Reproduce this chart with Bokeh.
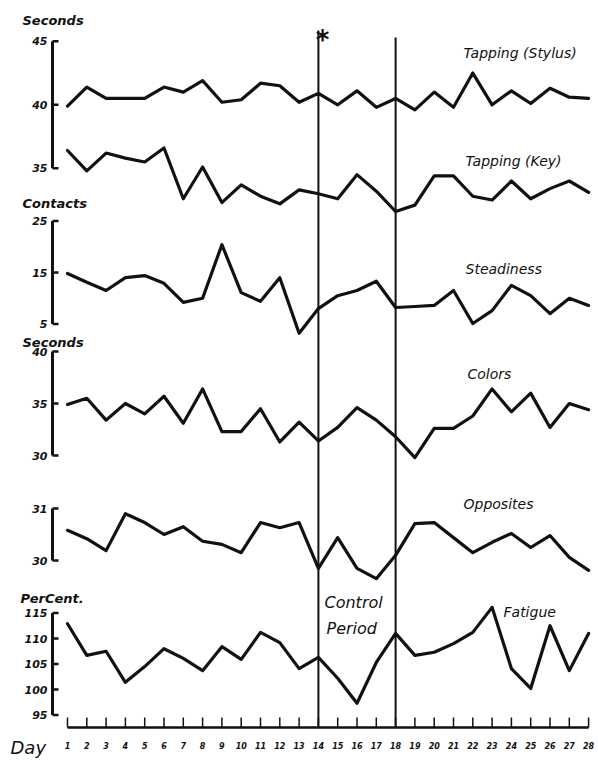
from bokeh.plotting import figure
from bokeh.models import Range1d
from bokeh.embed import file_html
from bokeh.resources import INLINE
from bokeh.core.properties import value

# ---------------- data ----------------
days = list(range(1, 29))
tapping_stylus = [39.9, 41.4, 40.5, 40.5, 40.5, 41.4, 41.0, 41.9, 40.2, 40.4, 41.7, 41.5, 40.2, 40.9,
                  40.0, 41.1, 39.8, 40.5, 39.6, 41.0, 39.8, 42.5, 40.0, 41.1, 40.1, 41.3, 40.6, 40.5]
tapping_key = [36.4, 34.8, 36.2, 35.8, 35.5, 36.6, 32.6, 35.1, 32.3, 33.7, 32.8, 32.2, 33.3, 33.0,
               32.6, 34.5, 33.2, 31.6, 32.1, 34.4, 34.4, 32.8, 32.5, 34.0, 32.6, 33.4, 34.0, 33.1]
steadiness = [14.8, 13.1, 11.5, 14.0, 14.4, 12.9, 9.2, 10.0, 20.4, 11.1, 9.4, 14.0, 3.2, 8.0,
              10.5, 11.5, 13.3, 8.2, 8.4, 8.6, 11.5, 5.1, 7.6, 12.5, 10.5, 7.0, 10.0, 8.6]
colors = [34.9, 35.5, 33.4, 35.0, 34.0, 35.7, 33.1, 36.4, 32.3, 32.3, 34.5, 31.3, 33.2, 31.4,
          32.7, 34.6, 33.4, 31.8, 29.8, 32.6, 32.6, 33.8, 36.4, 34.2, 36.0, 32.7, 35.0, 34.4]
opposites = [30.58, 30.42, 30.19, 30.90, 30.73, 30.50, 30.65, 30.37, 30.31, 30.15, 30.73, 30.63, 30.73, 29.85,
             30.44, 29.85, 29.65, 30.10, 30.71, 30.73, 30.44, 30.15, 30.35, 30.52, 30.25, 30.48, 30.06, 29.81]
fatigue = [112.9, 106.7, 107.5, 101.4, 104.5, 108.0, 106.1, 103.7, 108.4, 105.9, 111.2, 109.2, 104.1, 106.3,
           102.2, 97.3, 105.3, 111.0, 106.7, 107.3, 109.0, 111.2, 116.1, 104.1, 100.2, 112.5, 103.7, 111.0]
control_period = [14, 18]

tap_ticks = [45, 40, 35]
contact_ticks = [25, 15, 5]
color_ticks = [40, 35, 30]
opp_ticks = [31, 30]
pct_ticks = [115, 110, 105, 100, 95]

# ---------------- layout ----------------
W, H = 598, 760
X0, DX = 67.0, 19.3          # pixel of day 1, pixels per day
FONT = value("DejaVu Sans")
INK = "#111111"

def dx(px):
    return 1 + (px - X0) / DX

def prange(v0, y0, s):
    # value v0 sits at pixel y0 (from top), s pixels per unit
    return Range1d(start=v0 - (H - y0) / s, end=v0 + y0 / s)

p = figure(width=W, height=H, output_backend="svg", toolbar_location=None,
           x_range=Range1d(dx(0), dx(W)), y_range=Range1d(H, 0),
           x_axis_location=None, y_axis_location=None, min_border=0)
p.outline_line_color = None
p.background_fill_color = "white"
p.border_fill_color = "white"
p.xgrid.grid_line_color = None
p.ygrid.grid_line_color = None
p.grid.visible = False
p.extra_x_ranges = {"px": Range1d(0, W)}
p.extra_y_ranges = {
    "tap": prange(40, 104.3, 12.7),
    "con": prange(15, 272, 5.15),
    "col": prange(35, 403, 10.4),
    "opp": prange(30, 560, 52),
    "pct": prange(105, 663.5, 5.1),
}

# control period vertical lines
p.segment(x0=control_period, y0=[30, 37], x1=control_period, y1=[727, 727],
          line_color=INK, line_width=2)
p.text(x=[322], y=[24], text=["*"], x_range_name="px", text_font=FONT,
       text_font_size="26px", text_font_style="bold", text_align="center",
       text_baseline="top", text_color=INK)

# series
for vals, rn in [(tapping_stylus, "tap"), (tapping_key, "tap"), (steadiness, "con"),
                 (colors, "col"), (opposites, "opp"), (fatigue, "pct")]:
    p.line(days, vals, y_range_name=rn, line_color=INK, line_width=3.2,
           line_join="round", line_cap="round")

# panel axis brackets
ax = dx(52)
tick_end = dx(58)
lab_x = 47
for ticks, rn in [(tap_ticks, "tap"), (contact_ticks, "con"), (color_ticks, "col"),
                  (opp_ticks, "opp"), (pct_ticks, "pct")]:
    p.segment(x0=[ax], y0=[ticks[0]], x1=[ax], y1=[ticks[-1]], y_range_name=rn,
              line_color=INK, line_width=3)
    p.segment(x0=[ax] * len(ticks), y0=ticks, x1=[tick_end] * len(ticks), y1=ticks,
              y_range_name=rn, line_color=INK, line_width=2.5)
    p.text(x=[lab_x] * len(ticks), y=ticks, text=[str(t) for t in ticks],
           x_range_name="px", y_range_name=rn, text_font=FONT, text_font_size="11px",
           text_font_style="bold italic", text_align="right", text_baseline="middle",
           text_color=INK)

# unit labels
p.text(x=[22, 22, 22, 20], y=[20, 203, 342, 598],
       text=["Seconds", "Contacts", "Seconds", "PerCent."], x_range_name="px",
       text_font=FONT, text_font_size="13px", text_font_style="bold italic",
       text_align="left", text_baseline="middle", text_color=INK)

# series names
p.text(x=[463, 465, 465, 467, 463, 503],
       y=[52, 160, 268, 373, 503, 611],
       text=["Tapping (Stylus)", "Tapping (Key)", "Steadiness", "Colors", "Opposites",
             "Fatigue"],
       x_range_name="px", text_font=FONT, text_font_size="14px", text_font_style="italic",
       text_align="left", text_baseline="middle", text_color=INK)
p.text(x=[324, 326], y=[602, 628], text=["Control", "Period"],
       x_range_name="px", text_font=FONT, text_font_size="16px", text_font_style="italic",
       text_align="left", text_baseline="middle", text_color=INK)

# day axis
p.segment(x0=[days[0]], y0=[727], x1=[days[-1]], y1=[727], line_color=INK, line_width=2.5)
p.segment(x0=days, y0=[717] * len(days), x1=days, y1=[727] * len(days),
          line_color=INK, line_width=1.5)
p.text(x=days, y=[745] * len(days), text=[str(d) for d in days], text_font=FONT,
       text_font_size="8px", text_font_style="bold italic", text_align="center",
       text_baseline="middle", text_color=INK)
p.text(x=[10], y=[747], text=["Day"], x_range_name="px", text_font=FONT,
       text_font_size="18px", text_font_style="italic", text_align="left",
       text_baseline="middle", text_color=INK)

open("out.html", "w").write(file_html(p, INLINE))
